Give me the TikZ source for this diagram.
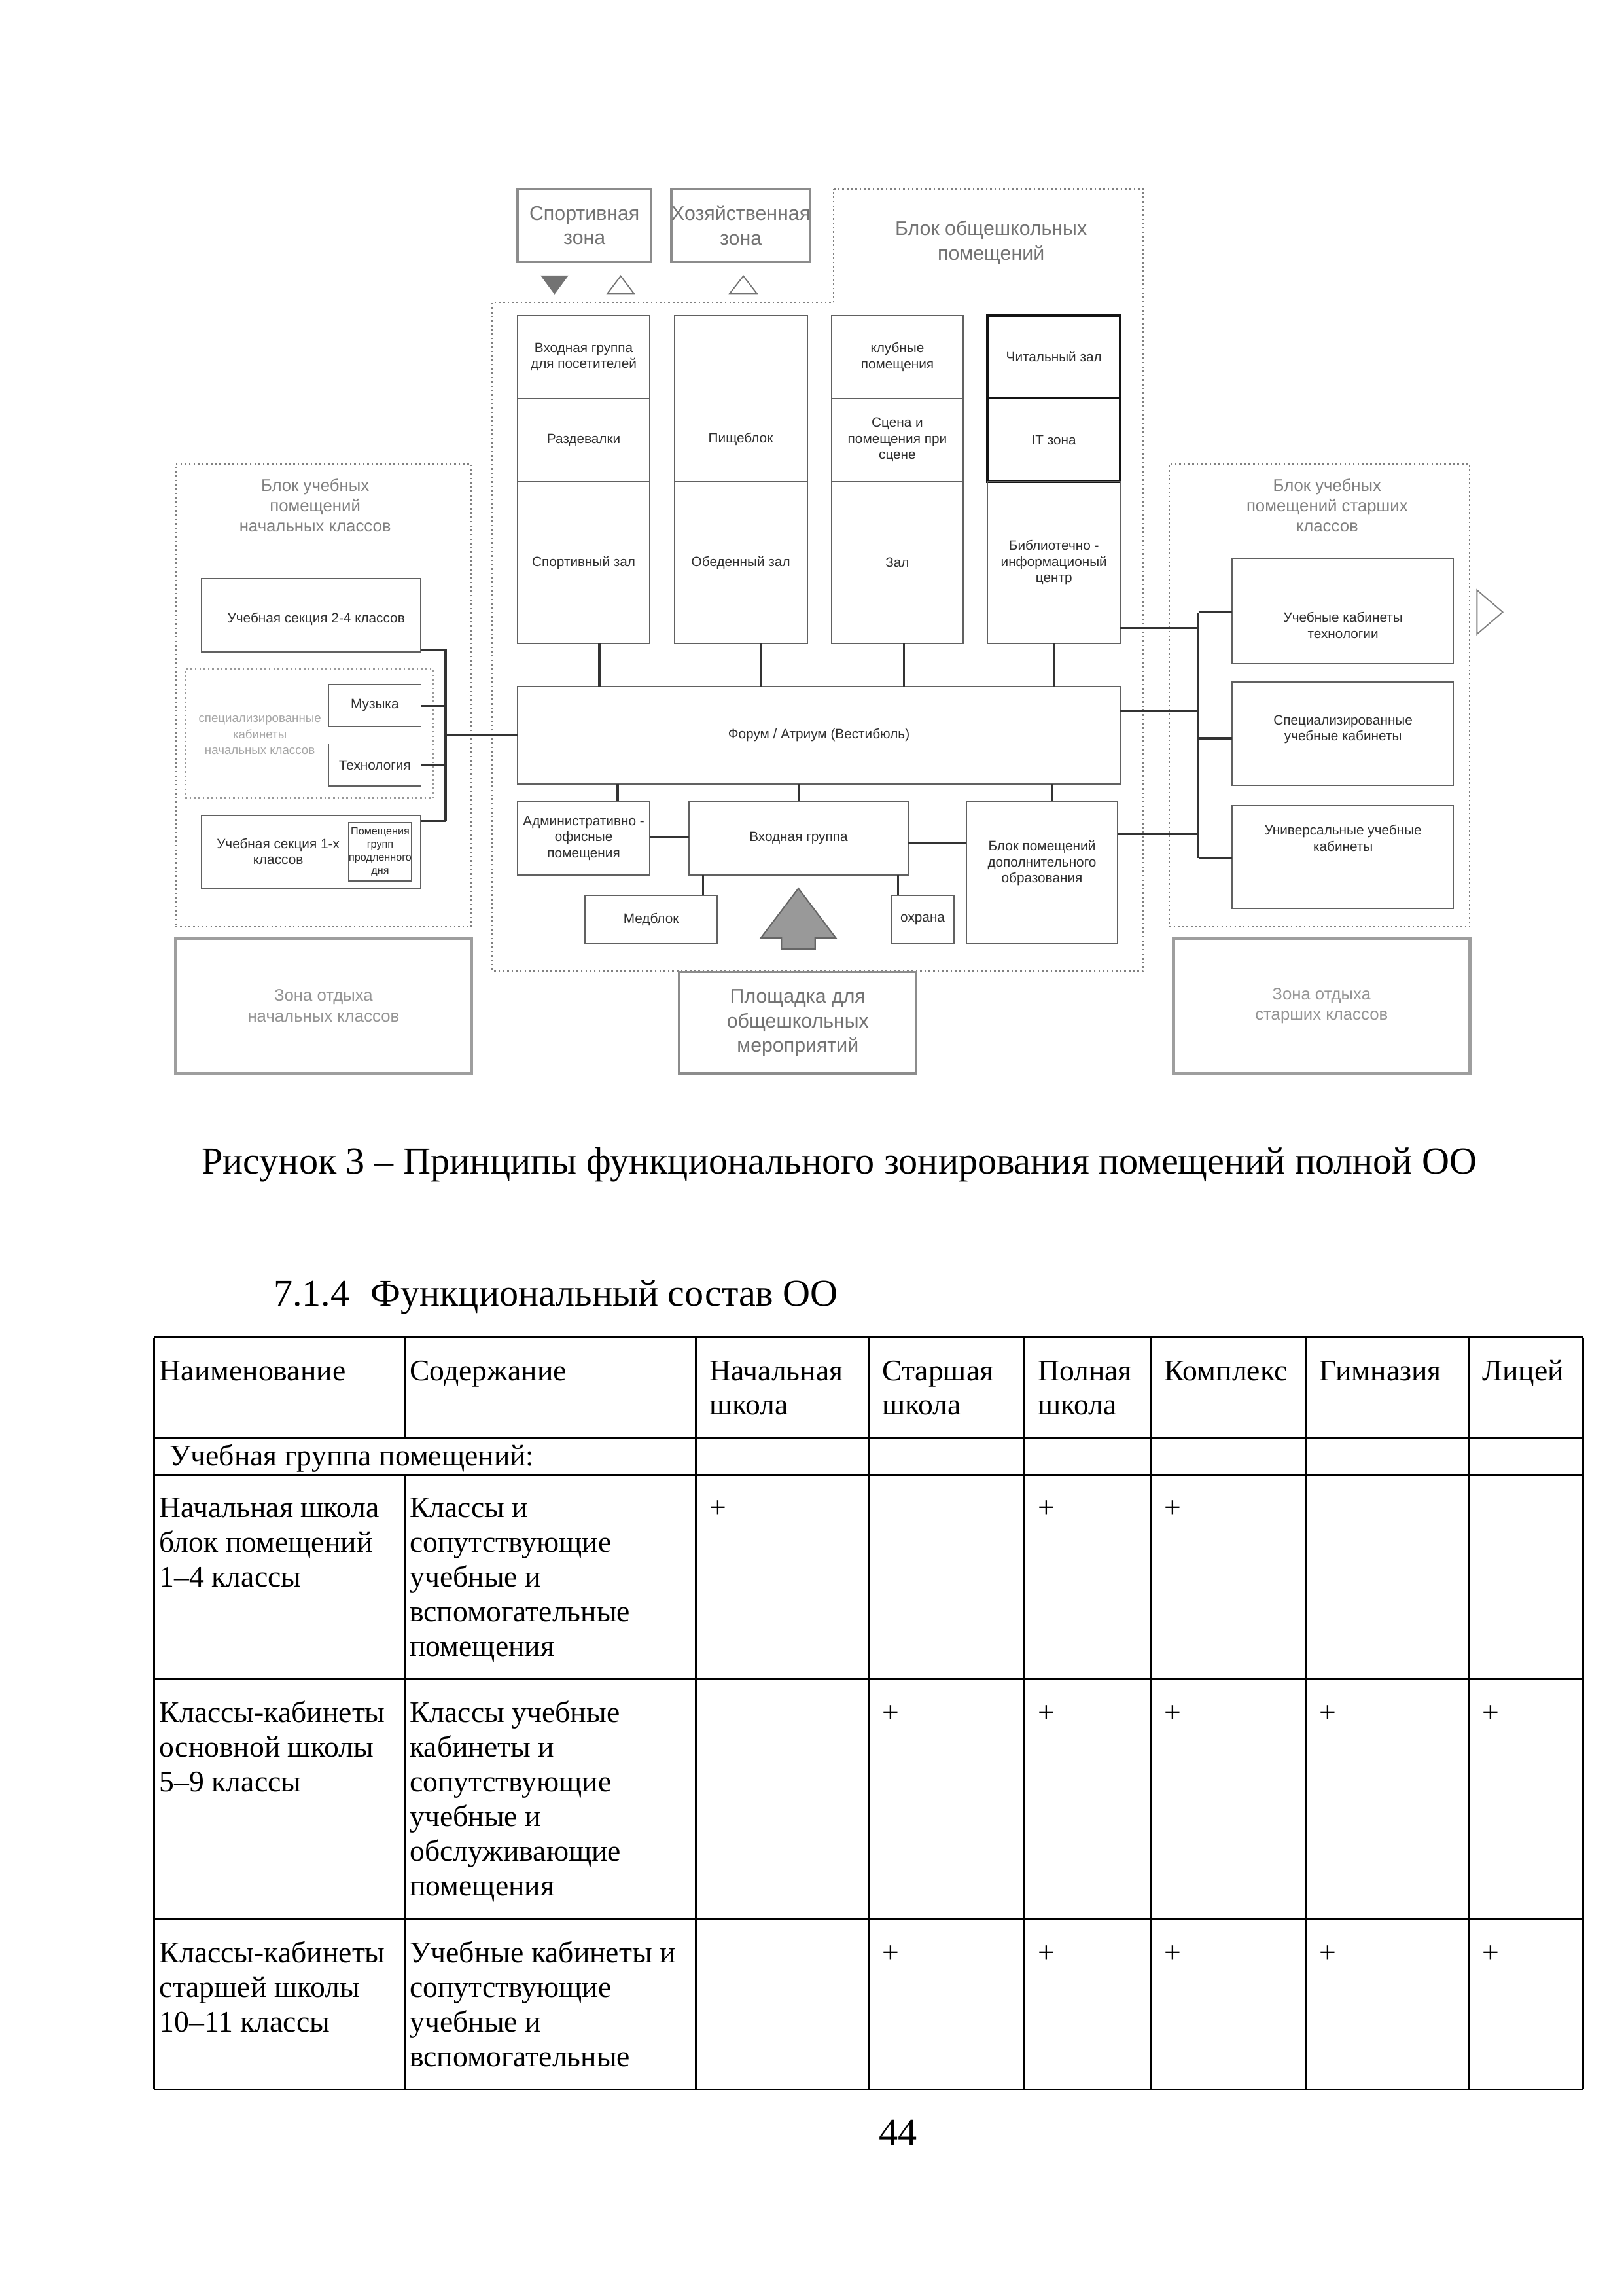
\documentclass[tikz,border=0pt]{standalone}
\usepackage{fontspec}
\setmainfont{Liberation Serif}
\newfontfamily\dgf{Liberation Sans}
\newcommand\cellx[4]{%
  \foreach \t [count=\i] in {#4} \node[xcell] (#1-\i) at (#2,{#3+(\i-1)*23.64}) {\t};}
% [style] name x1 y1 x2 y2 text
\newcommand\rbox[7][]{%
  \node[#1,minimum width={(#5-#3)*0.018936cm},minimum height={(#6-#4)*0.018936cm}]
    (#2) at ({(#3+#5)/2},{(#4+#6)/2}) {#7};}
\begin{document}
\begin{tikzpicture}[x=0.018936cm,y=-0.018936cm,
 xroom/.style={draw=black!62,line width=0.45pt,inner sep=0pt,outer sep=0pt,align=center,font=\dgf\fontsize{5}{5.9}\selectfont,text=black!82},
 xthick/.style={xroom,draw=black!92,line width=0.9pt},
 xzone/.style={draw=black!45,line width=0.9pt,inner sep=0pt,outer sep=0pt,align=center,font=\dgf\fontsize{7.3}{9.1}\selectfont,text=black!55},
 xrest/.style={draw=black!38,line width=1.1pt,inner sep=0pt,outer sep=0pt,align=center,font=\dgf\fontsize{6.2}{7.5}\selectfont,text=black!42},
 xblock/.style={draw=black!50,densely dotted,line width=0.6pt,inner sep=0pt,outer sep=0pt},
 xtitle/.style={inner sep=0pt,align=center,font=\dgf\fontsize{6.2}{7.5}\selectfont,text=black!50},
 xtxt/.style={inner sep=0pt,align=center,font=\dgf\fontsize{5}{5.9}\selectfont,text=black!82},
 xlink/.style={draw=black!80,line width=0.8pt},
 xcell/.style={inner sep=0pt,anchor=base west,font=\fontsize{11}{12.6}\selectfont},
 xrule/.style={line width=0.75pt},
]
\useasboundingbox (0,0) rectangle (1109,1568);

% ---------- top zones ----------
\rbox[xzone]{sport}{353.5}{129}{445}{179}{Спортивная\\зона}
\rbox[xzone]{hoz}{460.7}{129}{551.4}{179}{Хозяйственная\\зона}
\draw[xblock] (569.5,129) -- (781,129) -- (781,663) -- (336.3,663) -- (336.3,206.5) -- (569.5,206.5) -- cycle;
\node[xzone,draw=none] (cbt) at (677,165.5) {Блок общешкольных\\помещений};

% triangles
\filldraw[black!55,line width=0.4pt] (370,188.5) -- (387.6,188.5) -- (378.8,200.4) -- cycle;
\draw[black!55,line width=0.45pt] (415,200.4) -- (433,200.4) -- (424,188.5) -- cycle;
\draw[black!55,line width=0.45pt] (498.5,200.4) -- (517,200.4) -- (507.8,188.5) -- cycle;
\draw[black!50,line width=0.45pt] (1009,403) -- (1026.5,418) -- (1009,433) -- cycle;

% ---------- columns ----------
\rbox[xroom]{c1a}{353.5}{215.5}{444}{272}{Входная группа\\для посетителей}
\rbox[xroom]{c1b}{353.5}{272}{444}{329}{Раздевалки}
\rbox[xroom]{c1c}{353.5}{329}{444}{439.5}{Спортивный зал}
\rbox[xroom]{c2a}{460.7}{215.5}{551.4}{329}{}
\node[xtxt] (c2at) at (506,300) {Пищеблок};
\rbox[xroom]{c2c}{460.7}{329}{551.4}{439.5}{Обеденный зал}
\rbox[xroom]{c3a}{568}{215.5}{658}{272}{клубные\\помещения}
\rbox[xroom]{c3b}{568}{272}{658}{329}{Сцена и\\помещения при\\сцене}
\rbox[xroom]{c3c}{568}{329}{658}{439.5}{Зал}
\rbox[xthick]{c4a}{674.6}{215.5}{765.3}{272}{Читальный зал}
\rbox[xthick]{c4b}{674.6}{272}{765.3}{329}{IT зона}
\rbox[xroom]{c4c}{674.6}{329}{765.3}{439.5}{Библиотечно -\\информационый\\центр}

% ---------- forum and lower rooms ----------
\rbox[xroom]{forum}{353.5}{468.7}{765.3}{535.4}{Форум / Атриум (Вестибюль)}
\rbox[xroom]{admin}{353.5}{547.3}{444}{597.6}{Административно -\\офисные\\помещения}
\rbox[xroom]{entr}{470.7}{547.3}{620.3}{597.6}{Входная группа}
\rbox[xroom]{dop}{660.2}{547.3}{763.5}{644.5}{}
\node[xtxt] (dopt) at (711.8,589.5) {Блок помещений\\дополнительного\\образования};
\rbox[xroom]{med}{399.6}{611.6}{490}{644.5}{Медблок}
\rbox[xroom]{ohr}{608.8}{611.6}{651.8}{644.5}{охрана}
\filldraw[fill=black!40,draw=black!60,line width=0.5pt] (545.4,606.7) -- (571,640.6) -- (556.8,640.6) -- (556.8,648) -- (533.8,648) -- (533.8,640.6) -- (519.7,640.6) -- cycle;
\rbox[xzone]{plosh}{464}{664}{626}{733}{Площадка для\\общешкольных\\мероприятий}

% ---------- left block ----------
\rbox[xblock]{lblk}{120}{317}{322}{633}{}
\node[xtitle] (lblkt) at (215.3,345) {Блок учебных\\помещений\\начальных классов};
\rbox[xroom]{l24}{137.7}{395}{287.4}{445}{}
\node[xtxt] (l24t) at (216,423) {Учебная секция 2-4 классов};
\rbox[xblock,draw=black!40]{spec}{126.6}{457}{295.8}{545}{}
\node[xtxt,font=\dgf\fontsize{4.5}{5.9}\selectfont,text=black!35] (spect) at (177.5,502) {специализированные\\кабинеты\\начальных классов};
\rbox[xroom]{mus}{224.5}{467.6}{287.6}{496}{Музыка}
\rbox[xroom]{tech}{224.5}{508}{287.6}{537}{Технология}
\rbox[xroom]{l1}{137.7}{557}{287.4}{607}{}
\node[xtxt] (l1t) at (190,581.5) {Учебная секция 1-х\\классов};
\rbox[xroom,font=\dgf\fontsize{3.9}{4.8}\selectfont]{prod}{238.8}{561.7}{280.6}{601.7}{Помещения\\групп\\продленного\\дня}
\rbox[xrest]{lrest}{120}{640.7}{322}{733}{Зона отдыха\\начальных классов}

% ---------- right block ----------
\rbox[xblock]{rblk}{798.7}{317}{1004}{633}{}
\node[xtitle] (rblkt) at (906.6,345) {Блок учебных\\помещений старших\\классов};
\rbox[xroom]{r1}{841.8}{381.2}{992.7}{453}{}
\node[xtxt] (r1t) at (917.5,427) {Учебные кабинеты\\технологии};
\rbox[xroom]{r2}{841.8}{465.6}{992.7}{536.3}{}
\node[xtxt] (r2t) at (917.5,498) {Специализированные\\учебные кабинеты};
\rbox[xroom]{r3}{841.8}{550}{992.7}{620.5}{}
\node[xtxt] (r3t) at (917.5,572.4) {Универсальные учебные\\кабинеты};
\rbox[xrest]{rrest}{801.6}{640.7}{1004}{733}{Зона отдыха\\старших классов}

% ---------- connector guides ----------
\coordinate (vx1) at (409.4,0); \coordinate (vx2) at (519.5,0);
\coordinate (vx3) at (617.4,0); \coordinate (vx4) at (719.7,0);
\coordinate (vxa) at (422,0);   \coordinate (vxb) at (545.4,0);
\coordinate (vxd) at (719.1,0); \coordinate (vxm) at (480.4,0);
\coordinate (vxo) at (613.4,0);
\coordinate (lbus) at (304.4,0); \coordinate (rbus) at (818.7,0);
\coordinate (hy1) at (0,429);   \coordinate (hy2) at (0,485.6);
\coordinate (hy3) at (0,569.5); \coordinate (hya) at (0,571.8);
\coordinate (hyb) at (0,575.4); \coordinate (hyf) at (0,502);
\coordinate (ly1) at (0,443.5); \coordinate (ly2) at (0,482);
\coordinate (ly3) at (0,522.6); \coordinate (ly4) at (0,560.7);
\coordinate (ry1) at (0,418.2); \coordinate (ry2) at (0,504.2);
\coordinate (ry3) at (0,585.9);

% ---------- connectors ----------
\foreach \c/\v in {c1c/vx1,c2c/vx2,c3c/vx3,c4c/vx4}
  \draw[xlink] (\c.south -| \v) -- (forum.north -| \v);
\draw[xlink] (forum.south -| vxa) -- (admin.north -| vxa);
\draw[xlink] (forum.south -| vxb) -- (entr.north -| vxb);
\draw[xlink] (forum.south -| vxd) -- (dop.north -| vxd);
\draw[xlink] (admin.east |- hya) -- (entr.west |- hya);
\draw[xlink] (entr.east |- hyb) -- (dop.west |- hyb);
\draw[xlink] (entr.south -| vxm) -- (med.north -| vxm);
\draw[xlink] (entr.south -| vxo) -- (ohr.north -| vxo);
\draw[xlink] (c4c.east |- hy1) -- (rbus |- hy1);
\draw[xlink] (forum.east |- hy2) -- (rbus |- hy2);
\draw[xlink] (dop.east |- hy3) -- (rbus |- hy3);
\draw[xlink] (rbus |- ry1) -- (rbus |- ry3);
\foreach \b/\y in {r1/ry1,r2/ry2,r3/ry3}
  \draw[xlink] (rbus |- \y) -- (\b.west |- \y);
\draw[xlink] (lbus |- ly1) -- (lbus |- ly4);
\foreach \b/\y in {l24/ly1,mus/ly2,tech/ly3,l1/ly4}
  \draw[xlink] (\b.east |- \y) -- (lbus |- \y);
\draw[xlink] (lbus |- hyf) -- (forum.west |- hyf);

% ---------- page text ----------
\draw[black!35,line width=0.4pt] (114.8,778) -- (1030.6,778);
\node[inner sep=0pt,anchor=base,font=\fontsize{14}{16}\selectfont] (cap) at (573.5,801.6)
  {Рисунок 3 – Принципы функционального зонирования помещений полной ОО};
\node[inner sep=0pt,anchor=base west,font=\fontsize{14}{16}\selectfont] (sec) at (186.6,891.8)
  {7.1.4\hspace{0.55em}Функциональный состав ОО};
\node[inner sep=0pt,anchor=base,font=\fontsize{14}{16}\selectfont] (pg) at (613.6,1464.8) {44};

% ---------- table ----------
\foreach \y in {913.4,982.4,1007.3,1146.8,1310.6,1426.8}
  \draw[xrule] (105.2,\y) -- (1081.6,\y);
\foreach \x in {105.2,475.4,593.5,699.8,786.2,892.2,1003.3,1081.6}
  \draw[xrule] (\x,913.4) -- (\x,1426.8);
\draw[xrule] (276.9,913.4) -- (276.9,982.4);
\draw[xrule] (276.9,1007.3) -- (276.9,1426.8);

\node[xcell] (h1) at (108.6,943) {Наименование};
\node[xcell] (h2) at (279.6,943) {Содержание};
\node[xcell] (h3) at (484.2,943) {Начальная};
\node[xcell] (h3b) at (484.2,966) {школа};
\node[xcell] (h4) at (602.3,943) {Старшая};
\node[xcell] (h4b) at (602.3,966) {школа};
\node[xcell] (h5) at (708.6,943) {Полная};
\node[xcell] (h5b) at (708.6,966) {школа};
\node[xcell] (h6) at (795,943) {Комплекс};
\node[xcell] (h7) at (901,943) {Гимназия};
\node[xcell] (h8) at (1012.1,943) {Лицей};

\node[xcell] (grp) at (115.5,1001.2) {Учебная группа помещений:};

\cellx{ra}{108.6}{1036.4}{Начальная школа,блок помещений,1–4 классы}
\cellx{rb}{279.6}{1036.4}{Классы и,сопутствующие,учебные и,вспомогательные,помещения}
\cellx{sa}{108.6}{1176.3}{Классы-кабинеты,основной школы,5–9 классы}
\cellx{sb}{279.6}{1176.3}{Классы учебные,кабинеты и,сопутствующие,учебные и,обслуживающие,помещения}
\cellx{ta}{108.6}{1340.3}{Классы-кабинеты,старшей школы,10–11 классы}
\cellx{tb}{279.6}{1340.3}{Учебные кабинеты и,сопутствующие,учебные и,вспомогательные}

\foreach \x [count=\i] in {484.2,708.6,795}
  \node[xcell] (pa\i) at (\x,1036.4) {+};
\foreach \x [count=\i] in {602.3,708.6,795,901,1012.1}
  \node[xcell] (pb\i) at (\x,1176.3) {+};
\foreach \x [count=\i] in {602.3,708.6,795,901,1012.1}
  \node[xcell] (pc\i) at (\x,1340.3) {+};
\end{tikzpicture}
\end{document}
